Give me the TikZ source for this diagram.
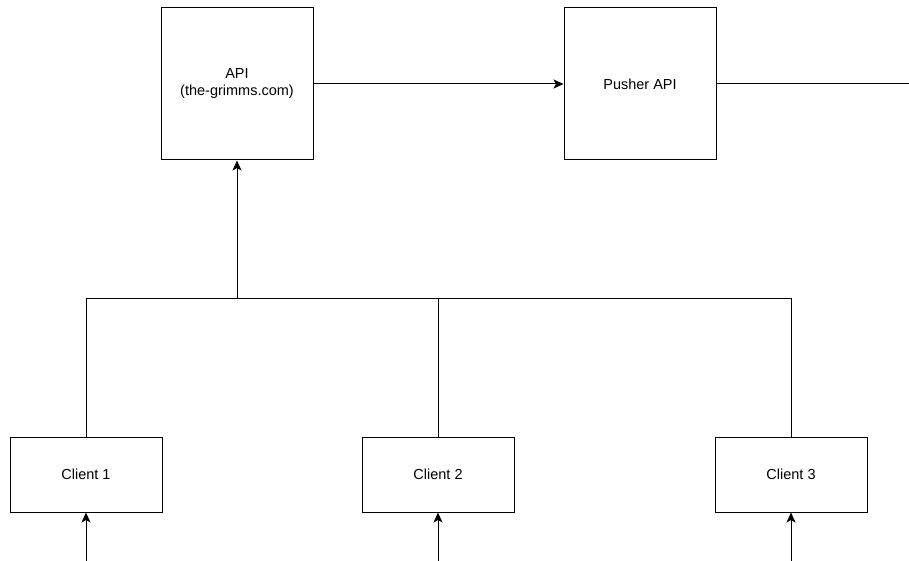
\documentclass[tikz,border=0pt]{standalone}
\usepackage{fontspec}
\setmainfont{Liberation Sans}
\usetikzlibrary{arrows.meta}
\begin{document}
\begin{tikzpicture}[x=1pt,y=-1pt,
  box/.style={draw,line width=1pt,minimum width=152pt,inner sep=0pt,align=center,font=\fontsize{14.5}{17}\selectfont},
  bigbox/.style={box,minimum height=152pt},
  smallbox/.style={box,minimum height=75pt},
  conn/.style={line width=1pt},
  arr/.style={conn,-{Stealth[length=10pt,width=9pt,inset=2.5pt]}}]
\useasboundingbox (0,0) rectangle (909,561);
\node[bigbox] (api) at (237,84) {API\\(the-grimms.com)};
\node[bigbox] (pusher) at (640,84) {Pusher API};
\node[smallbox] (c1) at (86,474.5) {Client 1};
\node[smallbox] (c2) at (438,474.5) {Client 2};
\node[smallbox] (c3) at (791,474.5) {Client 3};
\coordinate (j) at (237,298);
\coordinate (pout) at (909,84);
\coordinate (b1) at (86,561);
\coordinate (b2) at (438,561);
\coordinate (b3) at (791,561);
\draw[arr] (api) -- (pusher);
\draw[conn] (pusher.east) -- (pout);
\draw[arr] (c1.north) |- (j) -- (api.south);
\draw[conn] (c2.north) |- (j);
\draw[conn] (c3.north) |- (j);
\draw[arr] (b1) -- (c1.south);
\draw[arr] (b2) -- (c2.south);
\draw[arr] (b3) -- (c3.south);
\end{tikzpicture}
\end{document}
